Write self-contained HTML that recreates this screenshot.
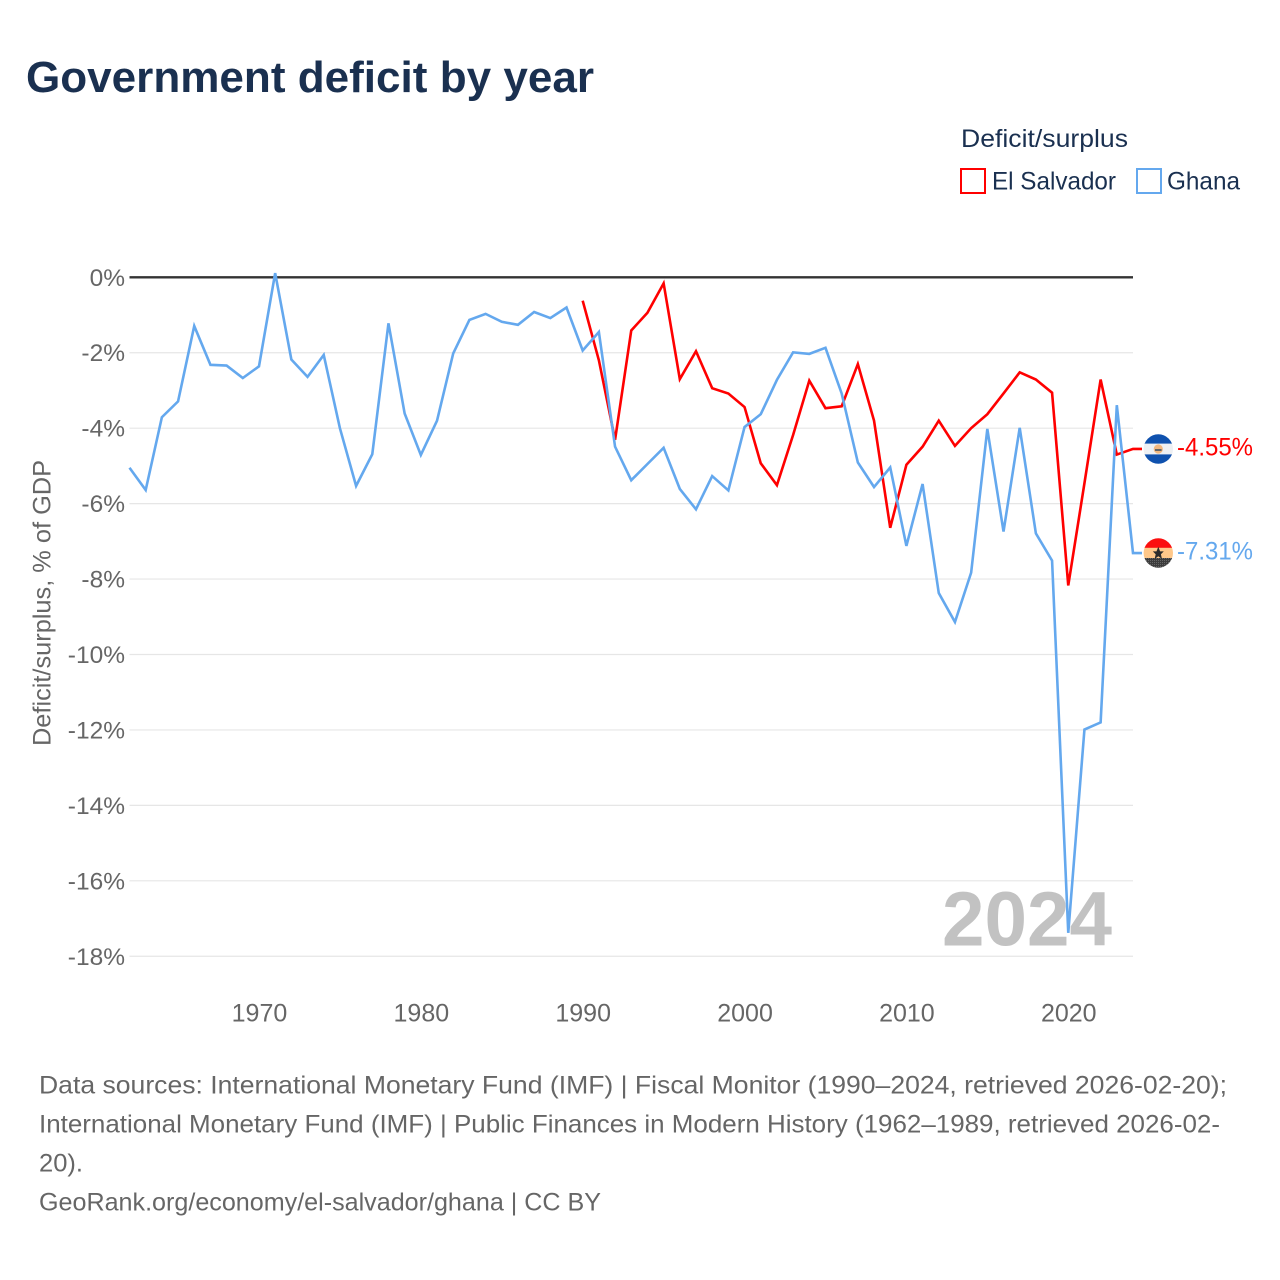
<!DOCTYPE html>
<html lang="en">
<head>
<meta charset="utf-8">
<title>Government deficit by year</title>
<style>
html,body{margin:0;padding:0;background:#fff;}
svg{display:block;font-family:"Liberation Sans",sans-serif;}
</style>
</head>
<body>
<svg id="chart" xmlns="http://www.w3.org/2000/svg" width="1280" height="1280" viewBox="0 0 1280 1280">
  <defs>
    <clipPath id="flag-clip-sv"><circle id="clip-sv" cx="1158.3" cy="449" r="14.7"/></clipPath>
    <clipPath id="flag-clip-gh"><circle id="clip-gh" cx="1158.3" cy="553" r="14.7"/></clipPath>
    <pattern id="gh-dots" width="2" height="2" patternUnits="userSpaceOnUse">
      <rect width="2" height="2" fill="#3c3c3c"/><rect width="1" height="1" fill="#666"/>
    </pattern>
  </defs>
  <rect width="1280" height="1280" fill="#fff"/>
  <text x="26" y="92" font-size="44" font-weight="700" fill="#1a3050" textLength="568" lengthAdjust="spacingAndGlyphs">Government deficit by year</text>

  <g>
    <text x="961" y="147" font-size="25" fill="#1a3050" textLength="167" lengthAdjust="spacingAndGlyphs">Deficit/surplus</text>
    <g>
      <rect x="961" y="169" width="24" height="24" fill="#fff" stroke="#ff0000" stroke-width="2"/>
      <text x="992" y="189.5" font-size="25" fill="#1a3050" textLength="124" lengthAdjust="spacingAndGlyphs">El Salvador</text>
    </g>
    <g>
      <rect x="1137" y="169" width="24" height="24" fill="#fff" stroke="#64a8ee" stroke-width="2"/>
      <text x="1167" y="189.5" font-size="25" fill="#1a3050" textLength="73" lengthAdjust="spacingAndGlyphs">Ghana</text>
    </g>
  </g>

  <g id="grid"></g>
  <text x="1027" y="945.5" font-size="77" font-weight="700" fill="#c2c2c2" text-anchor="middle" textLength="170" lengthAdjust="spacingAndGlyphs">2024</text>
  <g id="y-ticks"></g>
  <g id="x-ticks"></g>
  <text transform="translate(50.5,603) rotate(-90)" font-size="25" fill="#666" text-anchor="middle" textLength="286" lengthAdjust="spacingAndGlyphs">Deficit/surplus, % of GDP</text>
  <g id="series"></g>

  <g id="flag-sv" clip-path="url(#flag-clip-sv)">
    <rect x="1143" y="434" width="31" height="10" fill="#0f51ae"/>
    <rect x="1143" y="443.6" width="31" height="11" fill="#eef0f3"/>
    <rect x="1143" y="454.4" width="31" height="10" fill="#0f51ae"/>
    <circle cx="1158.3" cy="449" r="4.6" fill="#f2b880"/>
    <rect x="1155" y="449" width="6.6" height="2" fill="#666"/>
  </g>
  <g id="flag-gh" clip-path="url(#flag-clip-gh)">
    <rect x="1143" y="538" width="31" height="10" fill="#fb0f0f"/>
    <rect x="1143" y="547.8" width="31" height="10.4" fill="#ffc88a"/>
    <rect x="1143" y="558" width="31" height="10" fill="url(#gh-dots)"/>
    <polygon points="1158.3,546.8 1160.1,551.4 1163.8,551.4 1160.9,554.2 1162,559 1158.3,556.2 1154.6,559 1155.7,554.2 1152.8,551.4 1156.5,551.4" fill="#2b2b2b"/>
  </g>
  <g id="end-labels"></g>

  <g font-size="25" fill="#666">
    <text x="39" y="1093.5" textLength="1188" lengthAdjust="spacingAndGlyphs">Data sources: International Monetary Fund (IMF) | Fiscal Monitor (1990–2024, retrieved 2026-02-20);</text>
    <text x="39" y="1132.5" textLength="1181" lengthAdjust="spacingAndGlyphs">International Monetary Fund (IMF) | Public Finances in Modern History (1962–1989, retrieved 2026-02-</text>
    <text x="39" y="1171.5" textLength="44" lengthAdjust="spacingAndGlyphs">20).</text>
    <text x="39" y="1210.5" textLength="562" lengthAdjust="spacingAndGlyphs">GeoRank.org/economy/el-salvador/ghana | CC BY</text>
  </g>
</svg>
<script>
const years = [1962,1963,1964,1965,1966,1967,1968,1969,1970,1971,1972,1973,1974,1975,1976,1977,1978,1979,1980,1981,1982,1983,1984,1985,1986,1987,1988,1989,1990,1991,1992,1993,1994,1995,1996,1997,1998,1999,2000,2001,2002,2003,2004,2005,2006,2007,2008,2009,2010,2011,2012,2013,2014,2015,2016,2017,2018,2019,2020,2021,2022,2023,2024];
const ghanaValues = [-5.05,-5.64,-3.71,-3.29,-1.29,-2.32,-2.34,-2.67,-2.36,0.11,-2.18,-2.64,-2.06,-4.0,-5.53,-4.69,-1.22,-3.61,-4.71,-3.80,-2.02,-1.13,-0.97,-1.18,-1.26,-0.92,-1.08,-0.80,-1.94,-1.45,-4.49,-5.38,-4.95,-4.52,-5.61,-6.15,-5.27,-5.65,-3.97,-3.63,-2.72,-1.99,-2.03,-1.87,-3.08,-4.91,-5.56,-5.04,-7.12,-5.48,-8.37,-9.14,-7.83,-4.02,-6.74,-3.99,-6.79,-7.51,-17.38,-11.99,-11.80,-3.39,-7.31];
const salvadorValues = [null,null,null,null,null,null,null,null,null,null,null,null,null,null,null,null,null,null,null,null,null,null,null,null,null,null,null,null,-0.62,-2.2,-4.31,-1.41,-0.94,-0.16,-2.70,-1.96,-2.94,-3.08,-3.44,-4.93,-5.51,-4.18,-2.74,-3.47,-3.42,-2.30,-3.80,-6.64,-4.97,-4.49,-3.80,-4.47,-4.0,-3.63,-3.08,-2.52,-2.71,-3.06,-8.17,-5.46,-2.71,-4.70,-4.55];
const yTickValues = [0,-2,-4,-6,-8,-10,-12,-14,-16,-18];
const xTickYears = [1970,1980,1990,2000,2010,2020];

const NS = 'http://www.w3.org/2000/svg';
const plotLeft = 129.5, plotRight = 1133, zeroY = 277.3, pxPerUnit = 37.72;
const firstYear = years[0], lastYear = years[years.length - 1];
function xScale(year) { return plotLeft + (year - firstYear) * (plotRight - plotLeft) / (lastYear - firstYear); }
function yScale(value) { return zeroY - value * pxPerUnit; }
function make(tag) { return document.createElementNS(NS, tag); }

const grid = document.getElementById('grid');
const yTicks = document.getElementById('y-ticks');
yTickValues.forEach(function (v) {
  const line = make('line');
  
  
  line.setAttribute('x1', plotLeft);
  line.setAttribute('x2', plotRight);
  line.setAttribute('y1', yScale(v));
  line.setAttribute('y2', yScale(v));
  line.setAttribute('stroke', v === 0 ? '#333' : '#e6e6e6');
  line.setAttribute('stroke-width', v === 0 ? 2.4 : 1.2);
  grid.appendChild(line);
  const label = make('text');
  
  
  label.setAttribute('x', 125);
  label.setAttribute('y', yScale(v) + 8.5);
  label.setAttribute('text-anchor', 'end');
  label.setAttribute('font-size', '24.5');
  label.setAttribute('fill', '#666');
  label.textContent = v + '%';
  yTicks.appendChild(label);
});

const xTicks = document.getElementById('x-ticks');
xTickYears.forEach(function (yr) {
  const label = make('text');
  
  
  label.setAttribute('x', xScale(yr) + 0.5);
  label.setAttribute('y', 1021.5);
  label.setAttribute('text-anchor', 'middle');
  label.setAttribute('font-size', '25');
  label.setAttribute('fill', '#666');
  label.textContent = yr;
  xTicks.appendChild(label);
});

function seriesPath(values) {
  let d = '';
  values.forEach(function (v, i) {
    if (v === null) return;
    d += (d ? 'L' : 'M') + xScale(years[i]).toFixed(2) + ' ' + yScale(v).toFixed(2);
  });
  return d;
}

const seriesGroup = document.getElementById('series');
const endLabels = document.getElementById('end-labels');

const salvadorLine = make('path');


salvadorLine.setAttribute('d', seriesPath(salvadorValues) + 'L1142 ' + yScale(salvadorValues[salvadorValues.length - 1]).toFixed(2));
salvadorLine.setAttribute('fill', 'none');
salvadorLine.setAttribute('stroke', '#ff0000');
salvadorLine.setAttribute('stroke-width', '2.6');
salvadorLine.setAttribute('stroke-linejoin', 'miter');
seriesGroup.appendChild(salvadorLine);

const ghanaLine = make('path');


ghanaLine.setAttribute('d', seriesPath(ghanaValues) + 'L1142 ' + yScale(ghanaValues[ghanaValues.length - 1]).toFixed(2));
ghanaLine.setAttribute('fill', 'none');
ghanaLine.setAttribute('stroke', '#64a8ee');
ghanaLine.setAttribute('stroke-width', '2.6');
ghanaLine.setAttribute('stroke-linejoin', 'miter');
seriesGroup.appendChild(ghanaLine);

const salvadorEnd = salvadorValues[salvadorValues.length - 1];
const salvadorLabel = make('text');


salvadorLabel.setAttribute('x', 1177);
salvadorLabel.setAttribute('y', yScale(salvadorEnd) + 6.5);
salvadorLabel.setAttribute('font-size', '25');
salvadorLabel.setAttribute('fill', '#ff0000');
salvadorLabel.setAttribute('textLength', '76');
salvadorLabel.setAttribute('lengthAdjust', 'spacingAndGlyphs');
salvadorLabel.textContent = salvadorEnd.toFixed(2) + '%';
endLabels.appendChild(salvadorLabel);

const ghanaEnd = ghanaValues[ghanaValues.length - 1];
const ghanaLabel = make('text');


ghanaLabel.setAttribute('x', 1177);
ghanaLabel.setAttribute('y', yScale(ghanaEnd) + 6.5);
ghanaLabel.setAttribute('font-size', '25');
ghanaLabel.setAttribute('fill', '#64a8ee');
ghanaLabel.setAttribute('textLength', '76');
ghanaLabel.setAttribute('lengthAdjust', 'spacingAndGlyphs');
ghanaLabel.textContent = ghanaEnd.toFixed(2) + '%';
endLabels.appendChild(ghanaLabel);
</script>
</body>
</html>
